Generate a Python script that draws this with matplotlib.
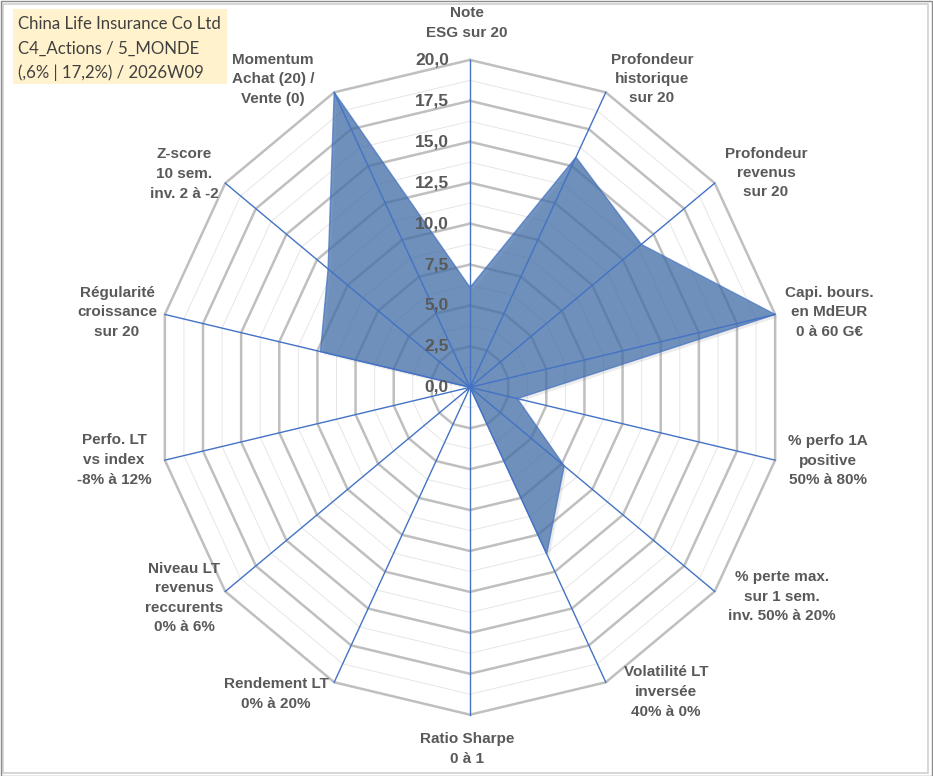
import numpy as np
import matplotlib
matplotlib.use('Agg')
import matplotlib.pyplot as plt
from matplotlib import patheffects
from matplotlib.patches import Rectangle

# Axes of the radar, clockwise from the top
labels = [
    "Note\nESG sur 20",
    "Profondeur\nhistorique\nsur 20",
    "Profondeur\nrevenus\nsur 20",
    "Capi. bours.\nen MdEUR\n0 à 60 G€",
    "% perfo 1A\npositive\n50% à 80%",
    "% perte max.\nsur 1 sem.\ninv. 50% à 20%",
    "Volatilité LT\ninversée\n40% à 0%",
    "Ratio Sharpe\n0 à 1",
    "Rendement LT\n0% à 20%",
    "Niveau LT\nrevenus\nreccurents\n0% à 6%",
    "Perfo. LT\nvs index\n-8% à 12%",
    "Régularité\ncroissance\nsur 20",
    "Z-score\n10 sem.\ninv. 2 à -2",
    "Momentum\nAchat (20) /\nVente (0)",
]
values = [6.1, 15.6, 14.0, 20.0, 3.1, 7.7, 11.3, 0.0, 0.0, 0.3, 0.0, 9.8, 11.6, 20.0]

ticks = [0.0, 2.5, 5.0, 7.5, 10.0, 12.5, 15.0, 17.5, 20.0]
tick_labels = ["0,0", "2,5", "5,0", "7,5", "10,0", "12,5", "15,0", "17,5", "20,0"]

title_lines = ["China Life Insurance Co Ltd",
               "C4_Actions / 5_MONDE",
               "(,6% | 17,2%) / 2026W09"]

# label centres, in pixels of the 933x776 picture
label_px = [(467, 23), (652, 79), (766, 173), (829, 312), (828, 461),
            (782, 597), (666, 692), (467, 749), (276, 694), (184, 598),
            (114, 460), (117, 312), (184, 174), (273, 79)]

W, H = 933, 776
CX, CY = 470, 387.3
SX, SY = 15.65, 16.37   # px per unit (chart is a bit squeezed horizontally)
RMAX = 20.0

GRID = '#BFBFBF'
MINOR = '#E6E6E6'
BLUE = '#4472C4'
TXT = '#595959'


def px_to_data(px, py):
    return (px - CX) / SX, (CY - py) / SY


n = len(labels)
angles = np.pi / 2 - np.arange(n) * 2 * np.pi / n
ang_closed = np.append(angles, angles[0])

fig = plt.figure(figsize=(W / 100, H / 100), dpi=100)
ax = fig.add_axes([0, 0, 1, 1])
x0, y0 = px_to_data(0, H)
x1, y1 = px_to_data(W, 0)
ax.set_xlim(x0, x1)
ax.set_ylim(y0, y1)
ax.axis('off')

# polygon grid rings
for r in np.arange(1.25, RMAX + 0.01, 1.25):
    major = abs(r / 2.5 - round(r / 2.5)) < 1e-6
    ax.plot(r * np.cos(ang_closed), r * np.sin(ang_closed),
            color=GRID if major else MINOR,
            lw=1.8 if major else 0.7, zorder=1, solid_joinstyle='miter')

# data area
v = np.append(values, values[0])
poly = ax.fill(v * np.cos(ang_closed), v * np.sin(ang_closed),
               facecolor='#3F6DA8', alpha=0.72, edgecolor=BLUE, lw=1.0, zorder=2)[0]
poly.set_path_effects([patheffects.SimplePatchShadow(offset=(2, -2), alpha=0.15,
                                                     shadow_rgbFace='#808080'),
                       patheffects.Normal()])

# spokes
for a in angles:
    ax.plot([0, RMAX * np.cos(a)], [0, RMAX * np.sin(a)], color=BLUE, lw=1.0, zorder=3)

# radial tick labels
for t, lab in zip(ticks, tick_labels):
    ax.text(-1.35, t, lab, ha='right', va='center', fontsize=12.5,
            fontweight='bold', color=TXT, family='Liberation Sans', zorder=4)

# category labels
for lab, (px, py) in zip(labels, label_px):
    lx, ly = px_to_data(px, py)
    ax.text(lx, ly, lab, ha='center', va='center', multialignment='center',
            fontsize=11, fontweight='bold', color=TXT, family='Liberation Sans',
            linespacing=1.5, zorder=4)

# title box
fig.add_artist(Rectangle((12.7 / W, 1 - 84.3 / H), 214 / W, 75 / H,
                         transform=fig.transFigure, facecolor='#FFF2CC',
                         edgecolor='none', zorder=5))
for i, line in enumerate(title_lines):
    fig.text(18 / W, 1 - (24 + i * 24.5) / H, line, ha='left', va='center',
             fontsize=12.1, color='#404040', family='Lato', zorder=6)

# chart frame
fig.add_artist(Rectangle((3 / W, 3 / H), (W - 8) / W, (H - 7) / H,
                         transform=fig.transFigure, facecolor='none',
                         edgecolor='#D0D0D0', lw=1.2))
fig.add_artist(Rectangle((0.5 / W, 0.5 / H), (W - 1.5) / W, (H - 1.5) / H,
                         transform=fig.transFigure, facecolor='none',
                         edgecolor='#8C8C8C', lw=1.0))

fig.savefig('out.png', dpi=100)
